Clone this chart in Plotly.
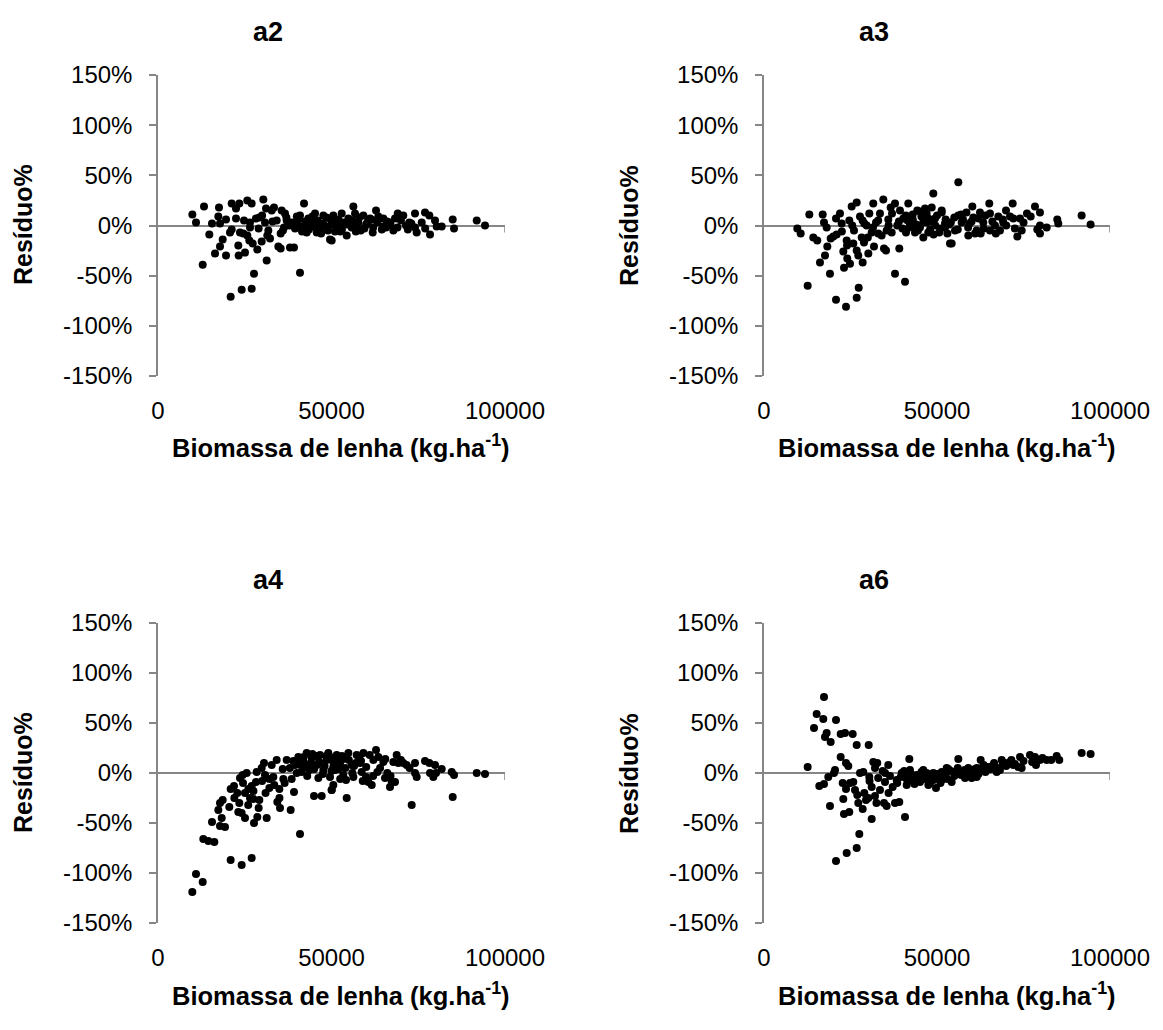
import plotly.graph_objects as go

# ---------------- data ----------------
panel_titles = ["a2", "a3", "a4", "a6"]
x_tickvals = [0, 50000, 100000]
x_ticktext = ["0", "50000", "100000"]
y_tickvals = [-150, -100, -50, 0, 50, 100, 150]
y_ticktext = ["-150%", "-100%", "-50%", "0%", "50%", "100%", "150%"]
x_title = "Biomassa de lenha (kg.ha<sup>-1</sup>)"
y_title = "Resíduo%"

a2_x = [9900, 10950, 13260, 12880, 14790, 15560, 17580, 17390, 17870, 18640, 17870, 16430, 19600, 19600,
        21240, 22480, 23430, 20750, 21240, 22480, 23140, 23250, 25070, 20940, 24110, 27000, 27670, 25740,
        27000, 30350, 23630, 24790, 24590, 25740, 26510, 26320, 27290, 28240, 29200, 28620, 29880, 30840,
        31320, 31130, 31800, 32760, 32280, 33430, 34680, 35350, 34200, 35640, 36600, 35350, 36310, 38040,
        39190, 37090, 37850, 40920, 42080, 39960, 40920, 41400, 43330, 44290, 45250, 46210, 46690, 47650,
        48610, 49570, 50340, 51500, 42850, 45740,
        50050, 50530, 51500, 52460, 52940, 54380, 54860, 55820, 56300, 56780, 57740, 58420, 59190, 60150,
        61100, 61880, 62830, 63220, 64940, 65710, 66860, 67820, 68300, 69080, 70690, 71460, 72430, 74070,
        74070, 74550, 76950, 78200, 78390, 79830, 80310, 81760, 84930, 85310, 91850, 94240,
        38500, 39500, 40500, 41500, 42500, 43500, 44500, 45000, 46000, 47000, 47500, 48500, 49000, 50000,
        51000, 52000, 53000, 53500, 54500, 56000, 57000, 58000, 59500, 60500, 62000, 63500, 64500, 66000,
        67000, 69000, 70000, 72000, 73000, 76000, 77000, 36000, 37000, 33000, 31500, 30000, 29000, 26500,
        40000, 41000, 43000, 44000, 46500, 48000, 49500, 51000, 52500, 55000, 57500, 60000, 61500, 65000]
a2_y = [11, 3, 19, -39, -9, 2, 18, 9, 2, -14, -21, -28, -30, 6,
        22, 17, 22, -7, -4, 7, -20, -30, -27, -71, -64, -63, -48, 25,
        22, 26, -7, 5, -8, -10, -2, -15, -18, 7, 8, -24, -16, 3,
        -35, 17, -5, 15, -13, 18, -21, -23, 5, 15, 12, -8, -2, -22,
        -22, 5, 0, -47, 22, 2, 10, -2, 7, 0, 12, 3, -5, 10,
        -2, -14, 5, 0, -7, -7,
        -15, 10, 3, -2, 12, -10, 7, -2, 19, 12, 3, -5, 10, 2,
        7, -7, 15, 3, 7, -2, 3, -5, 7, 12, 10, 0, 3, 12,
        -2, -7, 13, 10, -9, 5, -1, -1, 6, -3, 5, 0,
        3, -3, 6, -6, 4, -4, 9, -1, 5, -8, 2, 8, -5, 1,
        -6, 6, -4, 3, 1, 5, -6, 8, -3, 4, -2, 9, -4, 4,
        1, -2, 5, -4, 2, 3, -3, -5, 8, 4, -10, 10, -3, 3,
        9, -1, 1, 5, -3, 0, 7, 2, -6, 4, 0, 1, 6, -1]

a3_x = [9630, 10600, 12620, 13100, 14250, 15400, 16180, 17630, 18300, 19070, 16960, 17340, 18110, 19270,
        20040, 20810, 20810, 21960, 22450, 22920, 23120, 23700, 24070, 23900, 24650, 24850, 25340, 25810,
        26010, 26790, 26790, 27370, 26790, 27250, 27740, 28230, 28520, 28900, 29680, 30150, 30440, 31120,
        31580, 31790, 32370, 33030, 33520, 34480, 34680, 35260, 35450, 35920, 36610, 36900, 37860, 37860,
        38520, 39100, 39300, 40260, 40750, 41040, 41700, 42190, 42970, 43640, 44300, 45080, 46040, 46530,
        47020, 47480, 48470, 48930, 49420, 50660, 51360, 52310, 53750,
        51350, 52310, 54240, 55200, 56160, 56160, 57130, 59050, 59340, 60210, 60500, 61470, 62420, 62620,
        63380, 65110, 65310, 65310, 66760, 67720, 68200, 69160, 69940, 71100, 71870, 72060, 73220, 73990,
        74470, 77080, 78320, 78990, 79760, 79760, 79760, 81700, 84760, 85050, 91800, 94400,
        39000, 40000, 41000, 42000, 43000, 44000, 44500, 45500, 46000, 47000, 48000, 48500, 49500, 50000,
        51000, 52500, 53000, 54000, 55000, 56000, 57500, 58500, 59000, 60000, 61000, 62000, 63500, 64000,
        66000, 67000, 69000, 70000, 72500, 75000, 76000, 34000, 36000, 37000, 33000, 30000, 28500, 25500,
        22500, 41500, 43500, 45000, 47500, 49000, 53500, 57000, 29000, 31500, 24000, 21000]
a3_y = [-3, -8, -60, 11, -12, -15, -37, -30, -21, -48, 11, 3, -2, -13,
        -11, 7, -74, 12, 2, -26, -42, -81, -33, -15, 5, -38, 19, -18,
        -5, 23, -72, -62, -25, -30, 9, -12, -37, -17, 0, -28, 12, -7,
        22, -21, 3, -8, 12, 26, -23, -25, -5, 6, 18, -7, 22, -48,
        0, -23, 15, 7, -56, -7, 22, 2, 11, -7, 15, -2, -12, 17,
        3, -7, 18, 32, 7, -7, 13, 2, -18,
        15, -2, -18, -5, 43, 10, 3, -10, 2, 19, 8, -5, 13, -8,
        3, 22, 12, -5, 0, 9, -5, 3, 15, 9, 22, 7, -11, 7,
        -5, 9, 19, -4, 13, -8, 0, -2, 6, 2, 10, 1,
        4, -3, 10, -2, 6, 1, -5, 9, 3, 12, -4, 4, 0, 10,
        -3, 6, -8, 3, 8, -4, 6, 13, -2, 4, -8, 7, -3, 10,
        4, -8, 6, 0, -3, 3, 12, -10, 0, 12, 5, -12, 5, 0,
        -6, 5, -1, 14, 7, -9, 1, 11, 2, -2, -20, -9]

a4_x = [9890, 10950, 12880, 13060, 14500, 16230, 15560, 17870, 19310, 18360, 17390, 17870, 18640, 20550,
        20940, 24110, 27000, 20940, 21900, 22860, 23430, 23140, 24110, 25070, 23630, 24400, 25560, 25070,
        26030, 26510, 27000, 27480, 27670, 28240, 28620, 29200, 28430, 29880, 30550, 30840, 31320, 32090,
        32090, 32760, 33240, 34390, 34970, 35160, 34200, 35930, 36120, 37090, 38230, 38520, 39190, 39480,
        40440, 40920, 41400, 41880, 42850, 43620, 44290, 44960, 45740, 46210, 46690, 47170, 47650, 48610,
        49090, 49570, 50050, 50530, 51010,
        50050, 50530, 51010, 51500, 52460, 53400, 54180, 54380, 54860, 55820, 56300, 57260, 58220, 58700,
        59190, 59950, 60620, 61590, 62060, 62830, 63220, 63510, 64940, 65420, 66090, 66860, 67340, 68300,
        67820, 68780, 69250, 70690, 71650, 73110, 74070, 74070, 74550, 76950, 78200, 78390, 79350, 79830,
        80120, 81760, 84640, 84930, 85310, 91850, 94240,
        38000, 39000, 40000, 41000, 42000, 43000, 44000, 45000, 45500, 46500, 47500, 48000, 49000, 50000,
        51500, 52500, 53000, 54000, 55000, 56000, 57000, 58000, 59000, 60000, 61000, 62000, 64000, 65500,
        67000, 70000, 72500, 36500, 35000, 33500, 31000, 30000, 29000, 27500, 26000, 24500, 22000,
        40500, 42500, 44500, 46000, 48500, 50500, 52000, 53500, 56500, 58500]
a4_y = [-119, -101, -109, -66, -68, -69, -49, -53, -54, -45, -37, -30, -27, -34,
        -87, -92, -85, -16, -13, -20, -30, -39, -40, -45, -5, -2, 0, -20,
        -16, -25, -13, -26, -50, -9, -44, -27, 1, 5, 10, -2, -45, -15,
        -6, 8, -4, -29, -16, -35, 13, 4, -6, 13, -37, -6, -19, 8,
        16, -61, 1, 11, 20, 3, 15, -23, 8, -5, 18, -23, 3, 13,
        20, -4, -17, 6, 16,
        -17, -12, 3, 18, 10, -2, -7, -25, 20, 8, -4, 18, 10, 1,
        20, -4, -9, -12, 13, 23, 1, 16, 11, -5, 0, -14, -9, -9,
        11, 18, 10, 10, 8, -32, 10, 0, -4, 12, 10, 0, -4, 8,
        0, 4, 1, -24, -2, 0, -1,
        5, 12, 0, 8, 16, -3, 10, 4, 17, 11, -1, 7, 15, 2,
        12, -6, 17, 5, 13, 0, 10, 15, -8, 6, 18, -3, 5, 14,
        -3, 13, 5, -10, -25, -12, -20, -8, -35, -18, -32, -10, -25,
        14, 6, 19, 9, 17, 11, 4, 14, 7, 12]

a6_x = [12620, 17340, 15220, 17140, 14450, 20810, 18110, 17630, 19270, 22160, 23410, 25630, 26790, 30260,
        22160, 23700, 24360, 20520, 20230, 18580, 15980, 17340, 22740, 23700, 22920, 19070, 23120, 24650,
        27540, 26790, 23900, 20810, 24850, 25810, 26300, 26960, 27250, 28520, 27740, 28700, 29480, 30150,
        30440, 31120, 31120, 31590, 32080, 32080, 32740, 33520, 34300, 34680, 35450, 34970, 35920, 36410,
        37190, 37860, 39100, 38340, 39790, 40750, 41240, 42000, 42190, 43150, 44130, 45080, 46040, 47020,
        47970, 48930, 49710, 50370, 51350, 52310, 53270,
        51350, 52800, 54240, 56160, 56640, 58090, 59050, 60500, 61470, 62620, 62920, 64360, 65310, 66270,
        67250, 68200, 68690, 69650, 71100, 72060, 73500, 73990, 74470, 76870, 78320, 78610, 79760, 81700,
        84590, 85340, 91800, 94400,
        38500, 39500, 40500, 41500, 42500, 43500, 44500, 45500, 46500, 47500, 48000, 49000, 50000, 51000,
        52000, 53000, 54000, 55000, 56000, 57000, 58000, 59500, 60000, 61000, 62000, 63500, 64000, 65500,
        66500, 67500, 70000, 71500, 72500, 75000, 77500, 80500, 83000, 36000, 33000, 35000, 30500, 29000,
        32500, 41000, 43000, 45000, 47000, 49500, 52500, 55500, 58500, 61500, 64500, 69000]
a6_y = [6, 76, 59, 54, 45, 53, 40, 36, 31, 39, 40, 39, 28, 28,
        16, 10, 7, 3, 0, -4, -13, -11, -10, -16, -26, -33, -41, -39,
        -61, -75, -80, -88, -10, -9, -17, -22, -30, -36, 0, 1, -27, -25,
        -4, -14, -46, 11, 5, -23, 10, -17, 2, -30, -33, -9, 8, -3,
        -14, -30, -29, -7, 0, -44, -12, 14, 3, -7, -2, -9, 3, -4,
        -10, 0, -15, -5, 1, -4, 4,
        -7, 5, -9, 14, 1, -5, 5, 0, -4, 13, 5, 3, 6, 8,
        1, 3, 13, 10, 11, 8, 6, 16, 5, 18, 16, 8, 13, 13,
        17, 13, 20, 19,
        -10, -4, 2, -8, -1, -11, -4, 1, -6, -12, -2, -7, -1, -10,
        0, -6, 2, -3, 5, -2, 3, 1, -5, 4, -1, 8, 1, 4,
        10, 5, 7, 13, 9, 12, 11, 15, 13, -20, -5, 0, -8, -20,
        -30, -5, -8, -3, 0, -4, -2, 0, 2, 5, 6, 9]

panels_x = [a2_x, a3_x, a4_x, a6_x]
panels_y = [a2_y, a3_y, a4_y, a6_y]

# ---------------- layout geometry ----------------
W, H = 1163, 1030
def px(v):
    return v / W
def py(v):
    return 1 - v / H

x_domains = [[px(158), px(505)], [px(764), px(1110)]]
y_domains = [[py(376), py(75)], [py(923), py(623)]]

AXIS_GREY = "#868686"
FONT = "Liberation Sans, Arial, sans-serif"

fig = go.Figure()
annotations = []
shapes = []

for i in range(4):
    col, row = i % 2, i // 2
    suffix = "" if i == 0 else str(i + 1)
    xa, ya = "x" + suffix, "y" + suffix
    fig.add_trace(go.Scatter(
        x=panels_x[i], y=panels_y[i], mode="markers",
        marker=dict(color="black", size=8, line=dict(width=0)),
        xaxis=xa, yaxis=ya, showlegend=False, cliponaxis=False,
    ))
    fig.layout["xaxis" + suffix] = dict(
        domain=x_domains[col], anchor=ya, range=[0, 100000], automargin=False,
        tickvals=x_tickvals, ticktext=x_ticktext, ticks="",
        showline=False, showgrid=False, zeroline=False,
        tickfont=dict(family=FONT, size=24, color="black"),
        ticklabelstandoff=18,
    )
    fig.layout["yaxis" + suffix] = dict(
        domain=y_domains[row], anchor=xa, range=[-150, 150], automargin=False,
        tickvals=y_tickvals, ticktext=y_ticktext,
        ticks="outside", ticklen=7, tickwidth=1.5, tickcolor=AXIS_GREY,
        showline=True, linecolor=AXIS_GREY, linewidth=1.5,
        showgrid=False, zeroline=True, zerolinecolor=AXIS_GREY, zerolinewidth=1.5,
        tickfont=dict(family=FONT, size=24, color="black"),
        ticklabelstandoff=12,
    )
    # tick marks hanging below the horizontal axis (which crosses at 0%)
    for tv in x_tickvals[1:]:
        shapes.append(dict(type="line", xref=xa, yref=ya, x0=tv, x1=tv, y0=0, y1=-7,
                           line=dict(color=AXIS_GREY, width=1.5), layer="below"))

    x_off = 606 * col
    y_off = 548 * row
    annotations.append(dict(text="<b>" + panel_titles[i] + "</b>", xref="paper", yref="paper",
                            x=px(268 + x_off), y=py(32 + y_off), showarrow=False,
                            xanchor="center", yanchor="middle",
                            font=dict(family=FONT, size=27, color="black")))
    annotations.append(dict(text="<b>" + y_title + "</b>", xref="paper", yref="paper",
                            x=px(23 + x_off), y=py(225 + y_off), showarrow=False, textangle=-90,
                            xanchor="center", yanchor="middle",
                            font=dict(family=FONT, size=25, color="black")))
    annotations.append(dict(text="<b>" + x_title + "</b>", xref="paper", yref="paper",
                            x=px(341 + x_off), y=py(446 + y_off), showarrow=False,
                            xanchor="center", yanchor="middle",
                            font=dict(family=FONT, size=25.5, color="black")))

fig.update_layout(
    width=W, height=H, autosize=False,
    margin=dict(l=0, r=0, t=0, b=0, pad=0, autoexpand=False),
    paper_bgcolor="white", plot_bgcolor="white",
    annotations=annotations, shapes=shapes,
    font=dict(family=FONT, color="black"),
)

fig.write_html("out.html")
